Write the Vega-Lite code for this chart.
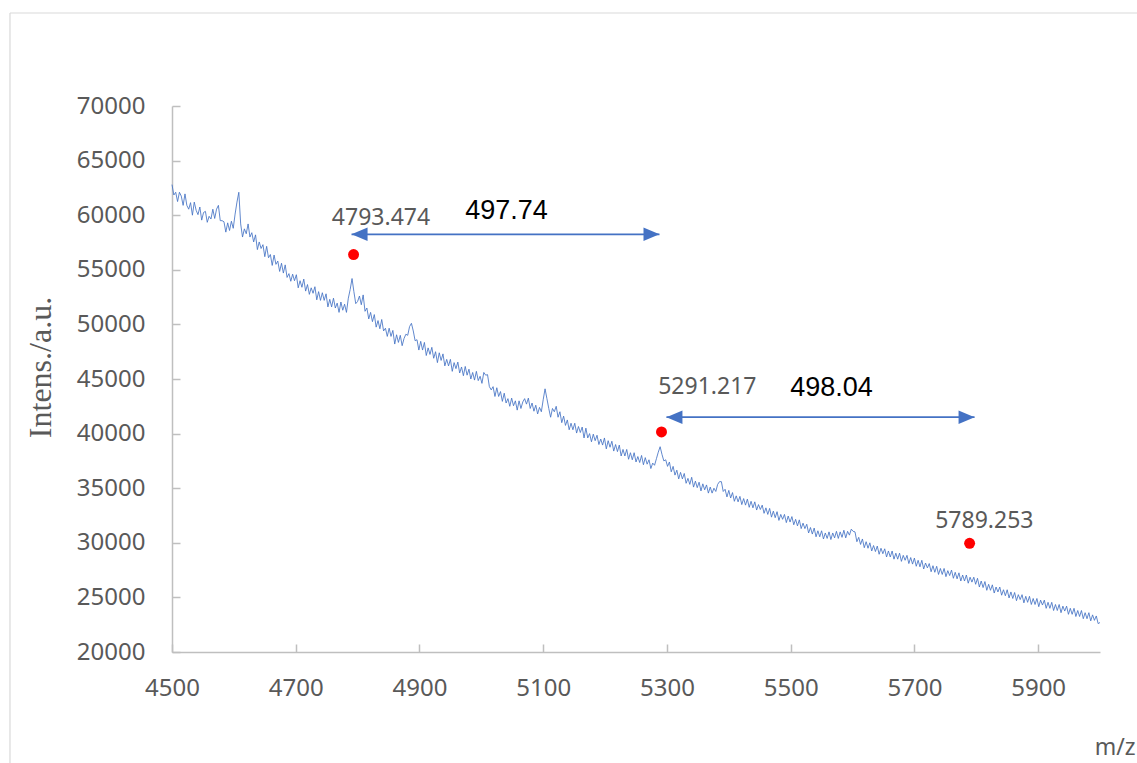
{
  "$schema": "https://vega.github.io/schema/vega-lite/v6.json",
  "width": 928,
  "height": 546,
  "autosize": {"type": "none"},
  "padding": {"left": 172, "top": 106, "right": 37, "bottom": 111},
  "background": "white",
  "config": {
    "view": {"stroke": null},
    "font": "Noto Sans",
    "axis": {
      "grid": false,
      "domainColor": "#BFBFBF",
      "domainWidth": 1.5,
      "tickColor": "#BFBFBF",
      "tickWidth": 1.5,
      "tickSize": -8,
      "labelColor": "#595959",
      "labelFont": "Noto Sans",
      "labelFontSize": 24,
      "titleColor": "#595959",
      "titleFontWeight": "normal"
    }
  },
  "datasets": {
    "spectrum": [
      {"mz":4500,"i":62800},{"mz":4503,"i":61850},{"mz":4506,"i":62100},{"mz":4509,"i":61250},{"mz":4512,"i":62100},{"mz":4515,"i":61750},{"mz":4518,"i":60900},{"mz":4521,"i":61950},{"mz":4524,"i":60900},{"mz":4527,"i":60550},{"mz":4530,"i":61150},{"mz":4533,"i":60000},{"mz":4536,"i":61200},{"mz":4539,"i":60450},{"mz":4542,"i":60050},{"mz":4545,"i":60750},{"mz":4548,"i":59550},{"mz":4551,"i":60250},{"mz":4554,"i":60350},{"mz":4557,"i":59350},{"mz":4560,"i":59900},{"mz":4563,"i":59650},{"mz":4566,"i":60550},{"mz":4569,"i":59700},{"mz":4572,"i":60550},{"mz":4575,"i":60900},{"mz":4578,"i":59500},{"mz":4581,"i":59500},{"mz":4584,"i":59400},{"mz":4587,"i":58450},{"mz":4590,"i":59300},{"mz":4593,"i":58600},{"mz":4596,"i":59450},{"mz":4599,"i":58800},
      {"mz":4602,"i":60100},{"mz":4605,"i":61200},{"mz":4608,"i":62100},{"mz":4611,"i":59200},{"mz":4614,"i":58000},{"mz":4617,"i":58750},{"mz":4620,"i":58300},{"mz":4623,"i":59200},{"mz":4626,"i":58000},{"mz":4629,"i":58400},{"mz":4632,"i":57550},{"mz":4635,"i":58200},{"mz":4638,"i":56850},{"mz":4641,"i":57550},{"mz":4644,"i":56950},{"mz":4647,"i":57300},{"mz":4650,"i":56200},{"mz":4653,"i":57150},{"mz":4656,"i":56100},{"mz":4659,"i":56400},{"mz":4662,"i":55400},{"mz":4665,"i":56350},{"mz":4668,"i":55500},{"mz":4671,"i":55800},{"mz":4674,"i":54850},{"mz":4677,"i":55600},{"mz":4680,"i":54700},{"mz":4683,"i":55450},{"mz":4686,"i":54300},{"mz":4689,"i":54650},{"mz":4692,"i":53950},{"mz":4695,"i":54600},{"mz":4698,"i":54000},
      {"mz":4701,"i":54550},{"mz":4704,"i":53350},{"mz":4707,"i":54000},{"mz":4710,"i":53400},{"mz":4713,"i":54150},{"mz":4716,"i":53050},{"mz":4719,"i":53650},{"mz":4722,"i":52750},{"mz":4725,"i":53350},{"mz":4728,"i":52850},{"mz":4731,"i":53450},{"mz":4734,"i":52250},{"mz":4737,"i":53000},{"mz":4740,"i":52200},{"mz":4743,"i":52900},{"mz":4746,"i":52200},{"mz":4749,"i":52800},{"mz":4752,"i":51600},{"mz":4755,"i":52300},{"mz":4758,"i":51600},{"mz":4761,"i":52400},{"mz":4764,"i":51500},{"mz":4767,"i":51950},{"mz":4770,"i":51100},{"mz":4773,"i":52050},{"mz":4776,"i":51300},{"mz":4779,"i":51850},{"mz":4782,"i":51100},{"mz":4785,"i":52400},{"mz":4788,"i":53200},{"mz":4791,"i":54200},{"mz":4794,"i":53000},{"mz":4797,"i":51900},
      {"mz":4800,"i":52100},{"mz":4803,"i":52600},{"mz":4806,"i":51800},{"mz":4809,"i":52700},{"mz":4812,"i":51200},{"mz":4815,"i":51500},{"mz":4818,"i":50500},{"mz":4821,"i":51100},{"mz":4824,"i":50250},{"mz":4827,"i":50900},{"mz":4830,"i":49750},{"mz":4833,"i":50350},{"mz":4836,"i":49600},{"mz":4839,"i":50450},{"mz":4842,"i":49400},{"mz":4845,"i":49650},{"mz":4848,"i":48900},{"mz":4851,"i":49650},{"mz":4854,"i":48900},{"mz":4857,"i":49450},{"mz":4860,"i":48200},{"mz":4863,"i":49050},{"mz":4866,"i":48350},{"mz":4869,"i":49000},{"mz":4872,"i":48050},{"mz":4875,"i":48700},{"mz":4878,"i":49100},{"mz":4881,"i":49000},{"mz":4884,"i":49800},{"mz":4887,"i":50100},{"mz":4890,"i":49400},{"mz":4893,"i":48500},{"mz":4896,"i":48600},{"mz":4899,"i":47650},
      {"mz":4902,"i":48450},{"mz":4905,"i":47650},{"mz":4908,"i":48350},{"mz":4911,"i":47150},{"mz":4914,"i":47850},{"mz":4917,"i":47250},{"mz":4920,"i":47900},{"mz":4923,"i":46900},{"mz":4926,"i":47500},{"mz":4929,"i":46500},{"mz":4932,"i":47400},{"mz":4935,"i":46700},{"mz":4938,"i":47300},{"mz":4941,"i":46200},{"mz":4944,"i":46800},{"mz":4947,"i":46200},{"mz":4950,"i":46800},{"mz":4953,"i":45700},{"mz":4956,"i":46500},{"mz":4959,"i":45950},{"mz":4962,"i":46550},{"mz":4965,"i":45550},{"mz":4968,"i":46100},{"mz":4971,"i":45300},{"mz":4974,"i":46150},{"mz":4977,"i":45350},{"mz":4980,"i":45900},{"mz":4983,"i":45000},{"mz":4986,"i":45600},{"mz":4989,"i":44900},{"mz":4992,"i":45700},{"mz":4995,"i":44850},{"mz":4998,"i":45250},
      {"mz":5001,"i":44600},{"mz":5004,"i":45600},{"mz":5007,"i":45350},{"mz":5010,"i":45400},{"mz":5013,"i":44300},{"mz":5016,"i":44000},{"mz":5019,"i":44300},{"mz":5022,"i":43400},{"mz":5025,"i":44200},{"mz":5028,"i":43400},{"mz":5031,"i":43850},{"mz":5034,"i":42950},{"mz":5037,"i":43700},{"mz":5040,"i":42800},{"mz":5043,"i":43200},{"mz":5046,"i":42500},{"mz":5049,"i":43250},{"mz":5052,"i":42550},{"mz":5055,"i":43000},{"mz":5058,"i":42150},{"mz":5061,"i":43000},{"mz":5064,"i":42300},{"mz":5067,"i":42900},{"mz":5070,"i":43200},{"mz":5073,"i":42700},{"mz":5076,"i":43250},{"mz":5079,"i":42300},{"mz":5082,"i":42800},{"mz":5085,"i":42050},{"mz":5088,"i":42600},{"mz":5091,"i":41800},{"mz":5094,"i":42400},{"mz":5097,"i":42000},
      {"mz":5100,"i":43100},{"mz":5103,"i":44100},{"mz":5106,"i":43200},{"mz":5109,"i":42300},{"mz":5112,"i":41500},{"mz":5115,"i":42300},{"mz":5118,"i":42000},{"mz":5121,"i":42500},{"mz":5124,"i":41500},{"mz":5127,"i":42000},{"mz":5130,"i":41000},{"mz":5133,"i":41600},{"mz":5136,"i":40750},{"mz":5139,"i":41250},{"mz":5142,"i":40350},{"mz":5145,"i":40950},{"mz":5148,"i":40350},{"mz":5151,"i":40950},{"mz":5154,"i":40050},{"mz":5157,"i":40650},{"mz":5160,"i":40100},{"mz":5163,"i":40600},{"mz":5166,"i":39600},{"mz":5169,"i":40500},{"mz":5172,"i":39600},{"mz":5175,"i":40000},{"mz":5178,"i":39250},{"mz":5181,"i":39950},{"mz":5184,"i":39350},{"mz":5187,"i":39850},{"mz":5190,"i":39000},{"mz":5193,"i":39500},{"mz":5196,"i":38950},{"mz":5199,"i":39600},
      {"mz":5202,"i":38600},{"mz":5205,"i":39350},{"mz":5208,"i":38750},{"mz":5211,"i":39300},{"mz":5214,"i":38400},{"mz":5217,"i":39000},{"mz":5220,"i":38350},{"mz":5223,"i":38950},{"mz":5226,"i":37950},{"mz":5229,"i":38550},{"mz":5232,"i":37950},{"mz":5235,"i":38550},{"mz":5238,"i":37650},{"mz":5241,"i":38250},{"mz":5244,"i":37600},{"mz":5247,"i":38250},{"mz":5250,"i":37400},{"mz":5253,"i":37900},{"mz":5256,"i":37350},{"mz":5259,"i":38000},{"mz":5262,"i":37150},{"mz":5265,"i":37800},{"mz":5268,"i":37200},{"mz":5271,"i":37600},{"mz":5274,"i":36800},{"mz":5277,"i":37300},{"mz":5280,"i":37100},{"mz":5283,"i":37700},{"mz":5286,"i":38300},{"mz":5289,"i":38800},{"mz":5292,"i":38100},{"mz":5295,"i":37500},{"mz":5298,"i":37600},
      {"mz":5301,"i":37000},{"mz":5304,"i":37400},{"mz":5307,"i":36500},{"mz":5310,"i":37000},{"mz":5313,"i":36200},{"mz":5316,"i":36650},{"mz":5319,"i":35850},{"mz":5322,"i":36450},{"mz":5325,"i":35850},{"mz":5328,"i":36350},{"mz":5331,"i":35450},{"mz":5334,"i":35900},{"mz":5337,"i":35350},{"mz":5340,"i":36000},{"mz":5343,"i":35100},{"mz":5346,"i":35650},{"mz":5349,"i":35050},{"mz":5352,"i":35550},{"mz":5355,"i":34750},{"mz":5358,"i":35400},{"mz":5361,"i":34850},{"mz":5364,"i":35300},{"mz":5367,"i":34550},{"mz":5370,"i":35100},{"mz":5373,"i":34550},{"mz":5376,"i":35000},{"mz":5379,"i":34700},{"mz":5382,"i":35350},{"mz":5385,"i":35600},{"mz":5388,"i":35600},{"mz":5391,"i":34700},{"mz":5394,"i":34900},{"mz":5397,"i":34200},
      {"mz":5400,"i":34800},{"mz":5403,"i":34100},{"mz":5406,"i":34600},{"mz":5409,"i":33800},{"mz":5412,"i":34300},{"mz":5415,"i":33750},{"mz":5418,"i":34250},{"mz":5421,"i":33500},{"mz":5424,"i":34050},{"mz":5427,"i":33450},{"mz":5430,"i":34000},{"mz":5433,"i":33250},{"mz":5436,"i":33800},{"mz":5439,"i":33200},{"mz":5442,"i":33750},{"mz":5445,"i":33000},{"mz":5448,"i":33500},{"mz":5451,"i":33050},{"mz":5454,"i":33450},{"mz":5457,"i":32700},{"mz":5460,"i":33200},{"mz":5463,"i":32600},{"mz":5466,"i":33150},{"mz":5469,"i":32350},{"mz":5472,"i":32900},{"mz":5475,"i":32300},{"mz":5478,"i":32850},{"mz":5481,"i":32050},{"mz":5484,"i":32600},{"mz":5487,"i":32150},{"mz":5490,"i":32600},{"mz":5493,"i":31850},{"mz":5496,"i":32450},{"mz":5499,"i":31900},
      {"mz":5502,"i":32400},{"mz":5505,"i":31650},{"mz":5508,"i":32150},{"mz":5511,"i":31550},{"mz":5514,"i":32100},{"mz":5517,"i":31300},{"mz":5520,"i":31800},{"mz":5523,"i":31300},{"mz":5526,"i":31700},{"mz":5529,"i":30900},{"mz":5532,"i":31400},{"mz":5535,"i":30800},{"mz":5538,"i":31350},{"mz":5541,"i":30550},{"mz":5544,"i":31100},{"mz":5547,"i":30550},{"mz":5550,"i":31100},{"mz":5553,"i":30350},{"mz":5556,"i":30900},{"mz":5559,"i":30400},{"mz":5562,"i":31000},{"mz":5565,"i":30300},{"mz":5568,"i":30900},{"mz":5571,"i":30450},{"mz":5574,"i":31050},{"mz":5577,"i":30400},{"mz":5580,"i":31000},{"mz":5583,"i":30500},{"mz":5586,"i":31150},{"mz":5589,"i":30450},{"mz":5592,"i":31050},{"mz":5595,"i":30700},{"mz":5598,"i":31250},
      {"mz":5601,"i":31050},{"mz":5604,"i":31000},{"mz":5607,"i":30100},{"mz":5610,"i":30500},{"mz":5613,"i":29850},{"mz":5616,"i":30350},{"mz":5619,"i":29550},{"mz":5622,"i":30100},{"mz":5625,"i":29500},{"mz":5628,"i":30000},{"mz":5631,"i":29250},{"mz":5634,"i":29750},{"mz":5637,"i":29200},{"mz":5640,"i":29700},{"mz":5643,"i":28950},{"mz":5646,"i":29500},{"mz":5649,"i":29000},{"mz":5652,"i":29450},{"mz":5655,"i":28700},{"mz":5658,"i":29250},{"mz":5661,"i":28700},{"mz":5664,"i":29250},{"mz":5667,"i":28500},{"mz":5670,"i":29050},{"mz":5673,"i":28500},{"mz":5676,"i":29050},{"mz":5679,"i":28300},{"mz":5682,"i":28850},{"mz":5685,"i":28400},{"mz":5688,"i":28850},{"mz":5691,"i":28100},{"mz":5694,"i":28650},{"mz":5697,"i":28050},
      {"mz":5700,"i":28600},{"mz":5703,"i":27850},{"mz":5706,"i":28400},{"mz":5709,"i":27800},{"mz":5712,"i":28400},{"mz":5715,"i":27600},{"mz":5718,"i":28150},{"mz":5721,"i":27700},{"mz":5724,"i":28100},{"mz":5727,"i":27350},{"mz":5730,"i":27900},{"mz":5733,"i":27300},{"mz":5736,"i":27850},{"mz":5739,"i":27100},{"mz":5742,"i":27650},{"mz":5745,"i":27100},{"mz":5748,"i":27650},{"mz":5751,"i":26900},{"mz":5754,"i":27450},{"mz":5757,"i":27000},{"mz":5760,"i":27500},{"mz":5763,"i":26750},{"mz":5766,"i":27300},{"mz":5769,"i":26700},{"mz":5772,"i":27250},{"mz":5775,"i":26500},{"mz":5778,"i":27050},{"mz":5781,"i":26500},{"mz":5784,"i":27050},{"mz":5787,"i":26300},{"mz":5790,"i":26850},{"mz":5793,"i":26400},{"mz":5796,"i":26850},{"mz":5799,"i":26200},
      {"mz":5802,"i":26750},{"mz":5805,"i":25950},{"mz":5808,"i":26500},{"mz":5811,"i":25900},{"mz":5814,"i":26450},{"mz":5817,"i":25650},{"mz":5820,"i":26200},{"mz":5823,"i":25650},{"mz":5826,"i":26150},{"mz":5829,"i":25400},{"mz":5832,"i":25950},{"mz":5835,"i":25500},{"mz":5838,"i":25950},{"mz":5841,"i":25200},{"mz":5844,"i":25700},{"mz":5847,"i":25150},{"mz":5850,"i":25700},{"mz":5853,"i":24950},{"mz":5856,"i":25500},{"mz":5859,"i":24900},{"mz":5862,"i":25450},{"mz":5865,"i":24700},{"mz":5868,"i":25250},{"mz":5871,"i":24800},{"mz":5874,"i":25250},{"mz":5877,"i":24500},{"mz":5880,"i":25100},{"mz":5883,"i":24550},{"mz":5886,"i":25100},{"mz":5889,"i":24350},{"mz":5892,"i":24900},{"mz":5895,"i":24350},{"mz":5898,"i":24900},
      {"mz":5901,"i":24150},{"mz":5904,"i":24750},{"mz":5907,"i":24300},{"mz":5910,"i":24750},{"mz":5913,"i":24000},{"mz":5916,"i":24550},{"mz":5919,"i":24000},{"mz":5922,"i":24550},{"mz":5925,"i":23800},{"mz":5928,"i":24350},{"mz":5931,"i":23800},{"mz":5934,"i":24350},{"mz":5937,"i":23600},{"mz":5940,"i":24200},{"mz":5943,"i":23750},{"mz":5946,"i":24200},{"mz":5949,"i":23450},{"mz":5952,"i":24000},{"mz":5955,"i":23450},{"mz":5958,"i":24000},{"mz":5961,"i":23250},{"mz":5964,"i":23800},{"mz":5967,"i":23250},{"mz":5970,"i":23800},{"mz":5973,"i":23050},{"mz":5976,"i":23600},{"mz":5979,"i":23050},{"mz":5982,"i":23600},{"mz":5985,"i":22850},{"mz":5988,"i":23400},{"mz":5991,"i":22900},{"mz":5994,"i":23300},{"mz":5997,"i":22600},{"mz":6000,"i":22700}
    ],
    "peaks": [
      {"mz": 4793.474, "i": 56400, "label": "4793.474", "lx": 4837.8, "ly": 59100},
      {"mz": 5291.217, "i": 40150, "label": "5291.217", "lx": 5365.3, "ly": 43600},
      {"mz": 5789.253, "i": 29950, "label": "5789.253", "lx": 5813.0, "ly": 31330}
    ],
    "spacings": [
      {"from": 4790.2, "to": 5287.94, "y": 58250, "label": "497.74", "lx": 5040.7, "ly": 59650},
      {"from": 5299.2, "to": 5797.24, "y": 41500, "label": "498.04", "lx": 5566.0, "ly": 43440}
    ],
    "frame": [
      {"x": 4238.1, "x2": 6400, "y": 78516, "y2": 78516},
      {"x": 4238.1, "x2": 4238.1, "y": 78516, "y2": 0}
    ]
  },
  "layer": [
    {
      "data": {"name": "frame"},
      "mark": {"type": "rule", "color": "#D9D9D9", "strokeWidth": 1.2},
      "encoding": {
        "x": {"field": "x", "type": "quantitative", "scale": {"domain": [4500, 6000], "nice": false, "zero": false}},
        "x2": {"field": "x2"},
        "y": {"field": "y", "type": "quantitative", "scale": {"domain": [20000, 70000], "nice": false, "zero": false}},
        "y2": {"field": "y2"}
      }
    },
    {
      "data": {"name": "spectrum"},
      "mark": {"type": "line", "color": "#4472C4", "strokeWidth": 0.85, "interpolate": "linear"},
      "encoding": {
        "x": {
          "field": "mz", "type": "quantitative",
          "scale": {"domain": [4500, 6000], "nice": false, "zero": false},
          "axis": {
            "values": [4500, 4700, 4900, 5100, 5300, 5500, 5700, 5900],
            "format": "d",
            "labelPadding": 32,
            "labelFlush": false,
            "title": "m/z",
            "titleFont": "Noto Sans",
            "titleFontSize": 23,
            "titleAnchor": null,
            "titleAlign": "right",
            "titleBaseline": "alphabetic",
            "titleX": 963,
            "titleY": 102
          }
        },
        "y": {
          "field": "i", "type": "quantitative",
          "scale": {"domain": [20000, 70000], "nice": false, "zero": false},
          "axis": {
            "values": [20000, 25000, 30000, 35000, 40000, 45000, 50000, 55000, 60000, 65000, 70000],
            "format": "d",
            "labelPadding": 35,
            "title": "Intens./a.u.",
            "titleFont": "Liberation Serif",
            "titleFontSize": 32,
            "titleColor": "#595959",
            "titleAnchor": null,
            "titleAngle": 270,
            "titleAlign": "center",
            "titleBaseline": "alphabetic",
            "titleX": -122,
            "titleY": 261
          }
        }
      }
    },
    {
      "data": {"name": "spacings"},
      "mark": {"type": "rule", "color": "#4472C4", "strokeWidth": 1.8},
      "encoding": {
        "x": {"field": "from", "type": "quantitative"},
        "x2": {"field": "to"},
        "y": {"field": "y", "type": "quantitative"}
      }
    },
    {
      "data": {"name": "spacings"},
      "mark": {"type": "point", "shape": "M2,-0.85L0,0L2,0.85Z", "size": 256, "filled": true, "opacity": 1, "color": "#4472C4", "strokeWidth": 0},
      "encoding": {
        "x": {"field": "from", "type": "quantitative"},
        "y": {"field": "y", "type": "quantitative"}
      }
    },
    {
      "data": {"name": "spacings"},
      "mark": {"type": "point", "shape": "M-2,-0.85L0,0L-2,0.85Z", "size": 256, "filled": true, "opacity": 1, "color": "#4472C4", "strokeWidth": 0},
      "encoding": {
        "x": {"field": "to", "type": "quantitative"},
        "y": {"field": "y", "type": "quantitative"}
      }
    },
    {
      "data": {"name": "spacings"},
      "mark": {"type": "text", "font": "Liberation Sans", "fontSize": 27, "color": "#000000", "align": "center", "baseline": "alphabetic"},
      "encoding": {
        "x": {"field": "lx", "type": "quantitative"},
        "y": {"field": "ly", "type": "quantitative"},
        "text": {"field": "label"}
      }
    },
    {
      "data": {"name": "peaks"},
      "mark": {"type": "point", "shape": "circle", "size": 120, "filled": true, "opacity": 1, "color": "#FF0000", "strokeWidth": 0},
      "encoding": {
        "x": {"field": "mz", "type": "quantitative"},
        "y": {"field": "i", "type": "quantitative"}
      }
    },
    {
      "data": {"name": "peaks"},
      "mark": {"type": "text", "font": "Noto Sans", "fontSize": 23, "color": "#595959", "align": "center", "baseline": "alphabetic"},
      "encoding": {
        "x": {"field": "lx", "type": "quantitative"},
        "y": {"field": "ly", "type": "quantitative"},
        "text": {"field": "label"}
      }
    }
  ]
}
